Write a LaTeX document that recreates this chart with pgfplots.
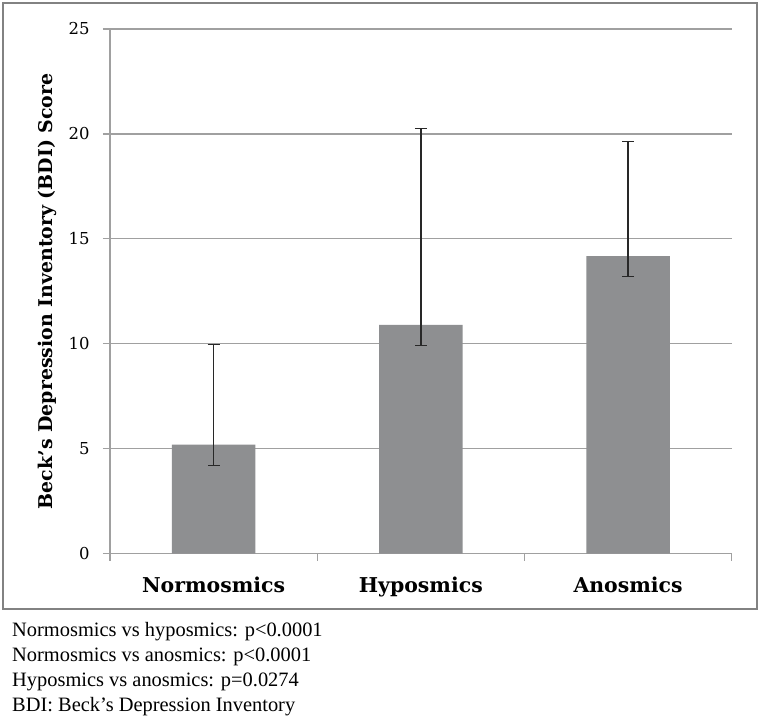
\documentclass[border=0pt]{standalone}
\usepackage{pgfplots}
\pgfplotsset{compat=1.18}
\usepackage{fontspec}
\setmainfont{Liberation Serif}
\newfontfamily\chartfont{DejaVu Serif}
\definecolor{barcol}{RGB}{142,143,145}
\definecolor{gridcol}{RGB}{160,160,160}
\definecolor{errcol}{RGB}{40,40,40}
\definecolor{framecol}{RGB}{130,130,130}
\begin{document}
\begin{tikzpicture}
\useasboundingbox (-110bp,-165.5bp) rectangle (650bp,553.5bp);
\fill[white] (-110bp,-165.5bp) rectangle (650bp,553.5bp);
\draw[framecol, line width=1.3bp] (-107bp,-55.5bp) rectangle (647bp,550.5bp);
\begin{axis}[
  at={(0,0)}, anchor=south west,
  scale only axis, width=621.7bp, height=524.5bp,
  xmin=-0.5, xmax=2.5, ymin=0, ymax=25,
  ytick={0,5,10,15,20,25},
  ymajorgrids, grid style={gridcol, line width=1.3bp},
  axis x line*=bottom, axis y line*=left,
  axis line style={gridcol, line width=1.3bp, -},
  xtick={0,1,2}, xticklabels={Normosmics,Hyposmics,Anosmics},
  xtick style={draw=none},
  ytick style={gridcol, line width=1.3bp},
  tick align=outside, major tick length=7bp,
  /pgf/number format/assume math mode=true,
  yticklabel style={font=\chartfont\fontsize{16.5}{16.5}\selectfont, anchor=east, xshift=-10bp},
  xticklabel style={font=\chartfont\bfseries\fontsize{20.5}{20.5}\selectfont, anchor=base, yshift=-31.5bp},
  ylabel={\bfseries Beck’s Depression Inventory (BDI) Score},
  every axis y label/.style={at={(axis description cs:-0.1013,0.5)}, rotate=90, anchor=center, font=\chartfont\fontsize{19}{19}\selectfont},
  clip=false,
]
\addplot[ybar, bar width=83.6bp, fill=barcol, draw=none,
  error bars/.cd, y dir=both, y explicit,
  error bar style={errcol, line width=1.4bp},
  error mark options={rotate=90, errcol, line width=1.6bp, mark size=6bp}]
  coordinates {
    (0,5.19) += (0,4.78) -= (0,1.00)
    (1,10.90) += (0,9.36) -= (0,0.98)
    (2,14.17) += (0,5.47) -= (0,0.97)
  };
\pgfplotsinvokeforeach{-0.5,0.5,1.5,2.5}{
  \draw[gridcol, line width=1.3bp] (axis cs:#1,0) -- ([yshift=-7bp]axis cs:#1,0);
}
\end{axis}
\begin{scope}[every node/.style={anchor=base west, inner sep=0pt, font=\fontsize{20.5}{20.5}\selectfont}]
\node at (-98bp,-83.2bp) {Normosmics vs hyposmics: p<0.0001};
\node at (-98bp,-108.2bp) {Normosmics vs anosmics: p<0.0001};
\node at (-98bp,-133.2bp) {Hyposmics vs anosmics: p=0.0274};
\node at (-98bp,-158.2bp) {BDI: Beck’s Depression Inventory};
\end{scope}
\end{tikzpicture}
\end{document}
